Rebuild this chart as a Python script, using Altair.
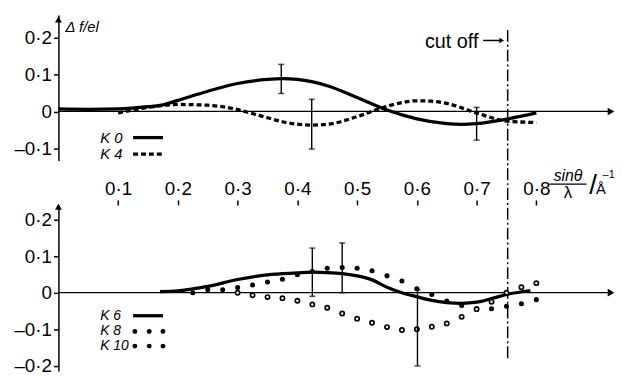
import altair as alt
import pandas as pd

# ---------------- data ----------------
# top panel
k0_x = [0.0, 0.05, 0.1, 0.15, 0.175, 0.2, 0.25, 0.3, 0.35, 0.375, 0.4, 0.45, 0.5, 0.55, 0.6, 0.65, 0.675, 0.7, 0.75, 0.8]
k0_y = [0.007, 0.006, 0.007, 0.013, 0.018, 0.03, 0.055, 0.076, 0.087, 0.089, 0.087, 0.07, 0.038, 0.004, -0.02, -0.033, -0.035, -0.033, -0.021, -0.004]
k4_x = [0.1, 0.125, 0.15, 0.2, 0.25, 0.3, 0.325, 0.35, 0.375, 0.425, 0.45, 0.5, 0.55, 0.6, 0.625, 0.65, 0.7, 0.75, 0.8]
k4_y = [-0.004, 0.004, 0.011, 0.019, 0.017, 0.005, -0.006, -0.017, -0.028, -0.037, -0.035, -0.014, 0.014, 0.029, 0.028, 0.022, -0.004, -0.026, -0.03]
err_top_x = [0.373, 0.424, 0.70]
err_top_lo = [0.049, -0.102, -0.078]
err_top_hi = [0.128, 0.033, 0.011]

# bottom panel
k6_x = [0.17, 0.2, 0.25, 0.3, 0.35, 0.4, 0.425, 0.45, 0.5, 0.525, 0.55, 0.575, 0.6, 0.625, 0.65, 0.675, 0.7, 0.725, 0.75, 0.79]
k6_y = [0.003, 0.005, 0.017, 0.036, 0.049, 0.054, 0.056, 0.055, 0.046, 0.035, 0.015, 0.0, -0.011, -0.021, -0.027, -0.029, -0.026, -0.016, -0.005, 0.006]
k8_x = [0.225, 0.25, 0.275, 0.3, 0.325, 0.35, 0.375, 0.4, 0.425, 0.45, 0.475, 0.5, 0.525, 0.55, 0.575, 0.6, 0.625, 0.65, 0.675, 0.7, 0.725, 0.75, 0.775, 0.8]
k8_y = [0.0, 0.008, 0.008, 0.014, 0.021, 0.029, 0.037, 0.049, 0.058, 0.067, 0.069, 0.067, 0.06, 0.046, 0.032, 0.011, -0.005, -0.023, -0.035, -0.044, -0.044, -0.037, -0.03, -0.019]
k10_x = [0.3, 0.325, 0.35, 0.375, 0.4, 0.425, 0.45, 0.475, 0.5, 0.525, 0.55, 0.575, 0.6, 0.625, 0.65, 0.675, 0.7, 0.725, 0.75, 0.775, 0.8]
k10_y = [0.0, -0.007, -0.012, -0.015, -0.022, -0.032, -0.041, -0.057, -0.071, -0.082, -0.094, -0.102, -0.1, -0.093, -0.084, -0.066, -0.045, -0.025, 0.0, 0.015, 0.026]
err_bot_x = [0.425, 0.475, 0.601]
err_bot_lo = [-0.01, 0.0, -0.2]
err_bot_hi = [0.122, 0.136, 0.008]

cutoff = 0.752
x_ticks = [0.1, 0.2, 0.3, 0.4, 0.5, 0.6, 0.7, 0.8]
y_ticks_top = [-0.1, 0.0, 0.1, 0.2]
y_ticks_bot = [-0.2, -0.1, 0.0, 0.1, 0.2]

# ---------------- layout / style ----------------
FONT = "Liberation Sans"
XMAX = 0.935
W = 565
H_TOP = 147
H_BOT = 168
GAP = 45
LABEL = ("datum.value == 0 ? '0' : (datum.value < 0 ? '–' : '') + '0·' + "
         "format(abs(datum.value) * 10, '.0f')")

xs = alt.Scale(domain=[0, XMAX], nice=False, zero=False)
ys_top = alt.Scale(domain=[-0.133, 0.262], nice=False, zero=False)
ys_bot = alt.Scale(domain=[-0.214, 0.24], nice=False, zero=False)


def y_axis(values):
    return alt.Axis(values=values, labelExpr=LABEL, title=None, grid=False,
                    domainColor="black", domainWidth=1.5, tickColor="black",
                    tickSize=5, tickWidth=1.5, labelFont=FONT, labelFontSize=19,
                    labelColor="black", labelPadding=2, minExtent=44, maxExtent=44)


def qx(v):
    return alt.X(datum=v, scale=xs, type="quantitative")


def qy(v, ys):
    return alt.Y(datum=v, scale=ys, type="quantitative")


def line_layer(xv, yv, ys, dash=None):
    df = pd.DataFrame({"x": xv, "y": yv})
    kw = dict(interpolate="monotone", strokeWidth=3.3, color="black")
    if dash:
        kw["strokeDash"] = dash
    return alt.Chart(df).mark_line(**kw).encode(
        x=alt.X("x:Q", scale=xs), y=alt.Y("y:Q", scale=ys))


def err_layers(xv, lo, hi, ys):
    df = pd.DataFrame({"x": xv, "lo": lo, "hi": hi})
    base = alt.Chart(df)
    r = base.mark_rule(color="black", strokeWidth=1.4).encode(
        x=alt.X("x:Q", scale=xs), y=alt.Y("lo:Q", scale=ys), y2="hi:Q")
    t1 = base.mark_tick(orient="horizontal", size=6, thickness=1.5, color="black").encode(
        x=alt.X("x:Q", scale=xs), y=alt.Y("lo:Q", scale=ys))
    t2 = base.mark_tick(orient="horizontal", size=6, thickness=1.5, color="black").encode(
        x=alt.X("x:Q", scale=xs), y=alt.Y("hi:Q", scale=ys))
    return [r, t1, t2]


def tri(shape, x, y, ys, size):
    return alt.Chart().mark_point(shape=shape, filled=True, size=size, color="black",
                                  opacity=1).encode(x=qx(x), y=qy(y, ys))


def axis_layers(ys, ytop, yticks, xaxis):
    df = pd.DataFrame({"x": [0.0], "x2": [0.925], "y": [0.0]})
    rule = alt.Chart(df).mark_rule(color="black", strokeWidth=1.3).encode(
        x=alt.X("x:Q", scale=xs, axis=xaxis), x2=alt.X2("x2"),
        y=alt.Y("y:Q", scale=ys, axis=y_axis(yticks)))
    return [rule, tri("triangle-right", 0.925, 0.0, ys, 60), tri("triangle-up", 0.0, ytop, ys, 50)]


def text(t, x, y, ys, size=14, italic=True, align="left", baseline="middle"):
    kw = dict(text=t, font=FONT, fontSize=size, color="black", align=align, baseline=baseline)
    if italic:
        kw["fontStyle"] = "italic"
    return alt.Chart().mark_text(**kw).encode(x=qx(x), y=qy(y, ys))


def seg(x1, x2, y, ys, dash=None, width=3.3):
    kw = dict(color="black", strokeWidth=width)
    if dash:
        kw["strokeDash"] = dash
    return alt.Chart().mark_rule(**kw).encode(x=qx(x1), x2=alt.X2(datum=x2), y=qy(y, ys))


# ---------------- top panel ----------------
top_layers = axis_layers(ys_top, 0.25, y_ticks_top, None)
top_layers += [line_layer(k0_x, k0_y, ys_top), line_layer(k4_x, k4_y, ys_top, [5, 3])]
top_layers += err_layers(err_top_x, err_top_lo, err_top_hi, ys_top)
top_layers += [
    text("K 0", 0.07, -0.071, ys_top, size=15), seg(0.125, 0.175, -0.071, ys_top),
    text("K 4", 0.07, -0.116, ys_top, size=15), seg(0.125, 0.175, -0.116, ys_top, dash=[5, 3]),
    text("Δ f/el", 0.012, 0.23, ys_top, size=15),
    text("cut off", 0.703, 0.172, ys_top, size=20, italic=False, align="right", baseline="alphabetic"),
    seg(0.711, 0.742, 0.193, ys_top, width=1.5),
    tri("triangle-right", 0.742, 0.193, ys_top, 30),
    alt.Chart().mark_rule(color="black", strokeWidth=1.5, strokeDash=[12, 3, 2, 3]).encode(
        x=qx(cutoff), y=alt.value(15), y2=alt.value(347)),
]

top = alt.layer(*top_layers).properties(width=W, height=H_TOP)

# ---------------- bottom panel ----------------
x_axis_bot = alt.Axis(orient="top", values=x_ticks, labelExpr=LABEL, title=None, grid=False,
                      domain=False, ticks=True, tickColor="black", tickSize=5, tickWidth=1.5,
                      labelFont=FONT, labelFontSize=19, labelColor="black", labelPadding=2)
bot_layers = axis_layers(ys_bot, 0.235, y_ticks_bot, x_axis_bot)
bot_layers.append(line_layer(k6_x, k6_y, ys_bot))
bot_layers.append(alt.Chart(pd.DataFrame({"x": k8_x, "y": k8_y})).mark_point(
    filled=True, size=26, color="black", opacity=1).encode(
    x=alt.X("x:Q", scale=xs), y=alt.Y("y:Q", scale=ys_bot)))
bot_layers.append(alt.Chart(pd.DataFrame({"x": k10_x, "y": k10_y})).mark_point(
    filled=False, size=18, color="black", fill="white", strokeWidth=1.7, opacity=1).encode(
    x=alt.X("x:Q", scale=xs), y=alt.Y("y:Q", scale=ys_bot)))
bot_layers += err_layers(err_bot_x, err_bot_lo, err_bot_hi, ys_bot)

leg_dots = pd.DataFrame({"x": [0.128, 0.152, 0.175] * 2, "y": [-0.106] * 3 + [-0.146] * 3})
bot_layers += [
    text("K 6", 0.07, -0.063, ys_bot), seg(0.125, 0.175, -0.063, ys_bot),
    text("K 8", 0.07, -0.106, ys_bot), text("K 10", 0.07, -0.147, ys_bot),
    alt.Chart(leg_dots).mark_point(filled=True, size=24, color="black", opacity=1).encode(
        x=alt.X("x:Q", scale=xs), y=alt.Y("y:Q", scale=ys_bot)),
]


def ptext(t, x, ypx, size=15, italic=True, align="center"):
    kw = dict(text=t, font=FONT, fontSize=size, color="black", align=align, baseline="middle")
    if italic:
        kw["fontStyle"] = "italic"
    return alt.Chart().mark_text(**kw).encode(x=qx(x), y=alt.value(ypx))


bot_layers += [
    ptext("sinθ", 0.853, -29, size=16),
    alt.Chart().mark_rule(color="black", strokeWidth=1.4).encode(
        x=qx(0.822), x2=alt.X2(datum=0.884), y=alt.value(-21)),
    ptext("λ", 0.853, -12, size=17, italic=False),
    ptext("/", 0.895, -19, size=28, italic=False),
    ptext("Å", 0.908, -16, size=15, italic=False),
    ptext("–1", 0.921, -30, size=11, italic=False),
]

bottom = alt.layer(*bot_layers).properties(width=W, height=H_BOT)

chart = alt.vconcat(top, bottom, spacing=GAP, bounds="flush").properties(
    padding={"left": 5, "top": 5, "right": 0, "bottom": 5}, background="white"
).configure_view(stroke=None)

chart.save("out.html", embed_options={"renderer": "svg", "actions": False})
